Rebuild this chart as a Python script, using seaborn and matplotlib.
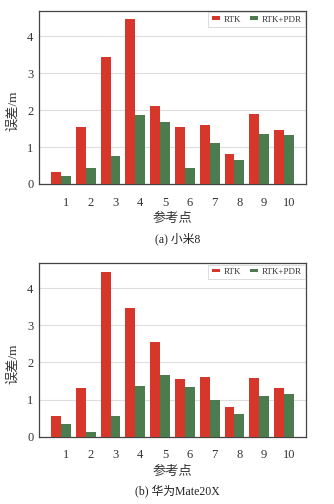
import matplotlib
matplotlib.use("Agg")
import matplotlib.pyplot as plt
import seaborn as sns
import pandas as pd

points = [1, 2, 3, 4, 5, 6, 7, 8, 9, 10]
series_names = ["RTK", "RTK+PDR"]
mi8_rtk = [0.32, 1.55, 3.44, 4.46, 2.12, 1.55, 1.59, 0.81, 1.89, 1.46]
mi8_pdr = [0.23, 0.44, 0.77, 1.86, 1.67, 0.44, 1.10, 0.65, 1.34, 1.32]
hw_rtk = [0.55, 1.32, 4.45, 3.46, 2.56, 1.56, 1.60, 0.81, 1.57, 1.32]
hw_pdr = [0.33, 0.14, 0.57, 1.37, 1.67, 1.35, 1.00, 0.61, 1.11, 1.14]
captions = ["(a) 小米8", "(b) 华为Mate20X"]
xlabel = "参考点"
ylabel = "误差/m"
colors = ["#D7372B", "#4C7C4D"]

sns.set_theme(style="white")
plt.rcParams["font.family"] = ["Liberation Serif", "Noto Sans CJK SC"]

fig = plt.figure(figsize=(3.34, 5.04), dpi=100)
W, H = 334, 504
boxes = [(39, 11, 306, 184), (39, 263.3, 306, 436.7)]
datasets = [(mi8_rtk, mi8_pdr), (hw_rtk, hw_pdr)]

for (l, t, r, b), (rtk, pdr), cap in zip(boxes, datasets, captions):
    ax = fig.add_axes([l / W, 1 - b / H, (r - l) / W, (b - t) / H])
    df = pd.DataFrame({
        "点": [str(p) for p in points] * 2,
        "误差": rtk + pdr,
        "方法": [series_names[0]] * len(points) + [series_names[1]] * len(points),
    })
    sns.barplot(data=df, x="点", y="误差", hue="方法", palette=colors,
                width=0.8, saturation=1, ax=ax, zorder=3, linewidth=0,
                errorbar=None)
    n = len(points)
    ax.set_xlim(-0.4 - 0.49, n - 1 + 0.4 + 0.49)
    ymax = max(rtk + pdr) * 1.05
    ax.set_ylim(0, ymax)
    ax.set_xticks([i + 0.2 for i in range(n)])
    ax.set_xticklabels([str(p) for p in points], fontsize=9)
    ax.set_yticks([0, 1, 2, 3, 4])
    ax.set_yticklabels(["0", "1", "2", "3", "4"], fontsize=9)
    ax.tick_params(axis="both", length=0, colors="#333333")
    ax.tick_params(axis="x", pad=9)
    ax.tick_params(axis="y", pad=4)
    ax.yaxis.grid(True, color="#DDDDDD", linewidth=0.8, zorder=0)
    ax.set_axisbelow(True)
    for s in ax.spines.values():
        s.set_visible(True)
        s.set_color("#444444")
        s.set_linewidth(0.9)
    ax.set_xlabel("")
    ax.set_ylabel("")
    axw = r - l
    axh = b - t
    ax.text((13 - l) / axw, (b - 111 + (t - 11)) / axh if False else (b - t - (111 - 11)) / axh,
            ylabel, transform=ax.transAxes, rotation=90, ha="center", va="center",
            fontsize=9.5, color="#333333")
    ax.text(0.5, -0.2, xlabel, transform=ax.transAxes, ha="center", va="center",
            fontsize=9.5, color="#333333")
    ax.text(0.52, -0.315, cap, transform=ax.transAxes, ha="center", va="center",
            fontsize=8.5, color="#222222")
    leg = ax.legend(loc="upper right", ncol=2, fontsize=6.5, frameon=True,
                    handlelength=0.9, handleheight=0.25, handletextpad=0.4,
                    columnspacing=1.0, borderpad=0.35, borderaxespad=0.15,
                    fancybox=False, title=None)
    leg.get_frame().set_edgecolor("#CCCCCC")
    leg.get_frame().set_linewidth(0.6)
    for txt in leg.get_texts():
        txt.set_color("#333333")

fig.savefig("out.png", dpi=100)
